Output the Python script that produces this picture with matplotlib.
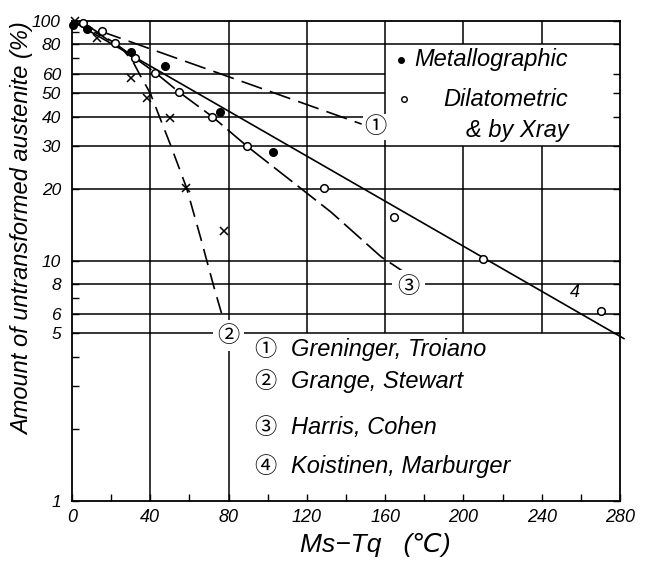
import matplotlib
matplotlib.use("Agg")
import matplotlib.pyplot as plt

# ---------------- data ----------------
# Metallographic (filled dots)
metallo_x = [0.5, 7.6, 30.2, 47.5, 75.4, 102.7]
metallo_y = [96.5, 93, 74.5, 64.7, 41.6, 28.4]
# Dilatometric & X-ray (open circles)
dilat_x = [5.5, 15.2, 22, 32.3, 42.6, 54.5, 71.6, 89.6, 128.9, 164.4, 210.1, 270.3]
dilat_y = [98.4, 91, 80.7, 70, 60.9, 50.7, 40, 30, 20.2, 15.3, 10.2, 6.2]
# crosses
cross_x = [1.5, 12.7, 30.1, 38.2, 50.3, 58.3, 77.6]
cross_y = [100, 85, 57.8, 48, 39.5, 20.1, 13.3]

# curves
c1_x = [0, 148]
c1_y = [100, 37.2]
c2_x = [0, 15, 26, 31, 35, 40, 50.3, 58.5, 65.6, 72.5, 76.8]
c2_y = [100, 87, 76, 68, 59, 50, 30.5, 20.2, 12.6, 7.8, 5.9]
c3_x = [5.5, 22, 32.3, 42.6, 54.5, 71.6, 89.6, 132.3, 158, 173.3]
c3_y = [98.4, 80.7, 70, 60.9, 50.7, 40, 30, 16, 10.4, 8.6]
c4_x = [0, 282]
c4_y = [100, 4.75]

x_major = [0, 40, 80, 120, 160, 200, 240, 280]
x_minor = [20, 60, 100, 140, 180, 220, 260]
y_major = [1, 5, 6, 8, 10, 20, 30, 40, 50, 60, 80, 100]
y_minor = [2, 3, 4, 7, 70, 90]

legend_names = ["Greninger, Troiano", "Grange, Stewart", "Harris, Cohen", "Koistinen, Marburger"]
legend_marks = ["\u2460", "\u2461", "\u2462", "\u2463"]

# ---------------- style ----------------
MAIN = ['Liberation Sans', 'DejaVu Sans', 'Noto Sans CJK JP']
NARROW = ['Liberation Sans Narrow', 'Liberation Sans', 'DejaVu Sans']
CIRC = ['Noto Sans CJK JP', 'DejaVu Sans']
plt.rcParams['font.family'] = MAIN

W, H = 647, 561
fig = plt.figure(figsize=(W / 100, H / 100), dpi=100)
L, R, T, B = 72, 620, 21, 501
ax = fig.add_axes([L / W, 1 - B / H, (R - L) / W, (B - T) / H])
ax.set_yscale('log')
ax.set_xlim(0, 280)
ax.set_ylim(1, 100)

for s in ax.spines.values():
    s.set_linewidth(1.3)
    s.set_color('black')

# grid (drawn as segments, leaving the legend boxes clear)
glw = 1.1
for yv in [5, 6, 8, 10, 20, 30, 80]:
    ax.hlines(yv, 0, 280, color='black', lw=glw, zorder=1)
for yv in [40, 50, 60]:
    ax.hlines(yv, 0, 160, color='black', lw=glw, zorder=1)
for xv in [40, 80]:
    ax.vlines(xv, 1, 100, color='black', lw=glw, zorder=1)
for xv in [120, 160]:
    ax.vlines(xv, 5, 100, color='black', lw=glw, zorder=1)
for xv in [200, 240]:
    ax.vlines(xv, 5, 30, color='black', lw=glw, zorder=1)
    ax.vlines(xv, 80, 100, color='black', lw=glw, zorder=1)

# ticks
ax.set_xticks(x_major)
ax.set_xticks(x_minor, minor=True)
ax.set_xticklabels([str(v) for v in x_major], fontstyle='italic', fontfamily=NARROW, fontsize=13)
ax.set_yticks(y_major)
ax.set_yticks(y_minor, minor=True)
ax.set_yticklabels([str(v) for v in y_major], fontstyle='italic', fontfamily=NARROW, fontsize=12.5)
ax.yaxis.set_minor_formatter(matplotlib.ticker.NullFormatter())
ax.tick_params(which='both', direction='in', length=5, width=1, color='black')
ax.tick_params(axis='x', which='both', pad=6, top=False)
ax.tick_params(axis='y', which='major', pad=8, right=True)
ax.tick_params(axis='y', which='minor', right=False)

# curves
lw = 1.2
ax.plot(c1_x, c1_y, color='black', lw=lw, dashes=(13, 5), zorder=3)
ax.plot(c2_x, c2_y, color='black', lw=lw, dashes=(10, 5), zorder=3)
ax.plot(c3_x, c3_y, color='black', lw=lw, dashes=(14, 4), zorder=3)
ax.plot(c4_x, c4_y, color='black', lw=lw, zorder=3, clip_on=False)

# points
ax.plot(dilat_x, dilat_y, 'o', ms=5.5, mfc='white', mec='black', mew=1.1, zorder=5, clip_on=False)
ax.plot(metallo_x, metallo_y, 'o', ms=5.5, mfc='black', mec='black', zorder=5, clip_on=False)
ax.plot(cross_x, cross_y, 'x', ms=6, mec='black', mew=1.1, zorder=5, clip_on=False)

# labels on curves
ax.text(155, 36.2, "\u2460", fontfamily=CIRC, fontsize=16, ha='center', va='center', zorder=6,
        bbox=dict(facecolor='white', edgecolor='none', pad=1.0))
ax.text(79.8, 4.9, "\u2461", fontfamily=CIRC, fontsize=16, ha='center', va='center', zorder=6,
        bbox=dict(facecolor='white', edgecolor='none', pad=3))
ax.text(172, 7.8, "\u2462", fontfamily=CIRC, fontsize=16, ha='center', va='center', zorder=6,
        bbox=dict(facecolor='white', edgecolor='none', pad=4))
ax.text(257, 7.4, "4", fontsize=13, fontstyle='italic', ha='center', va='center', zorder=6)

# upper legend
ax.plot([168], [68.8], 'o', ms=4, mfc='black', mec='black', zorder=6)
ax.plot([169.4], [47.2], 'o', ms=4, mfc='white', mec='black', mew=1.0, zorder=6)
ax.text(253.5, 68.8, "Metallographic", fontsize=17, fontstyle='italic', ha='right', va='center', zorder=6)
ax.text(253.5, 46.9, "Dilatometric", fontsize=17, fontstyle='italic', ha='right', va='center', zorder=6)
ax.text(253.5, 35.1, "& by Xray", fontsize=17, fontstyle='italic', ha='right', va='center', zorder=6)

# lower legend
leg_y = [4.26, 3.14, 2.02, 1.39]
for m, name, yv in zip(legend_marks, legend_names, leg_y):
    ax.text(99, yv, m, fontfamily=CIRC, fontsize=16, ha='center', va='center', zorder=6)
    ax.text(111.8, yv, name, fontsize=17, fontstyle='italic', ha='left', va='center', zorder=6)

# axis titles
fig.text(23 / W, 1 - 229 / H, "Amount of untransformed austenite (%)", rotation=90,
         fontsize=17, fontstyle='italic', ha='center', va='center')
fig.text(375 / W, 1 - 545 / H, "Ms\u2212Tq   (\u2103)", fontsize=19, fontstyle='italic',
         ha='center', va='center')

fig.savefig("out.png", dpi=100)
